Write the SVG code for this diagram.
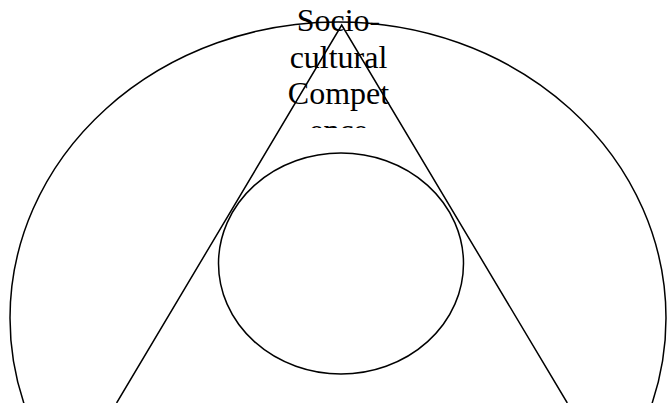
<svg xmlns="http://www.w3.org/2000/svg" width="667" height="403" viewBox="0 0 667 403">
<defs>
<style>
.shape{fill:none;stroke:#000;stroke-width:1.5}
.lbl{font-family:"Liberation Serif","Times New Roman",serif;font-size:32px;fill:#000;text-anchor:middle}
</style>
<clipPath id="textclip"><rect x="0" y="0" width="667" height="128"/></clipPath>
</defs>
<rect width="667" height="403" fill="#fff"/>
<g id="outer">
<ellipse class="shape" cx="338" cy="318" rx="328" ry="296"/>
</g>
<g id="triangle">
<polyline class="shape" points="116.6,403 341.7,25 567.3,403"/>
</g>
<g id="inner">
<ellipse class="shape" cx="341" cy="263.5" rx="122.5" ry="110.5"/>
</g>
<g id="label" clip-path="url(#textclip)">
<text class="lbl" x="338.5" y="31">Socio-</text>
<text class="lbl" x="338.5" y="68">cultural</text>
<text class="lbl" x="338.5" y="104">Compet</text>
<text class="lbl" x="338.5" y="141">ence</text>
</g>
</svg>
